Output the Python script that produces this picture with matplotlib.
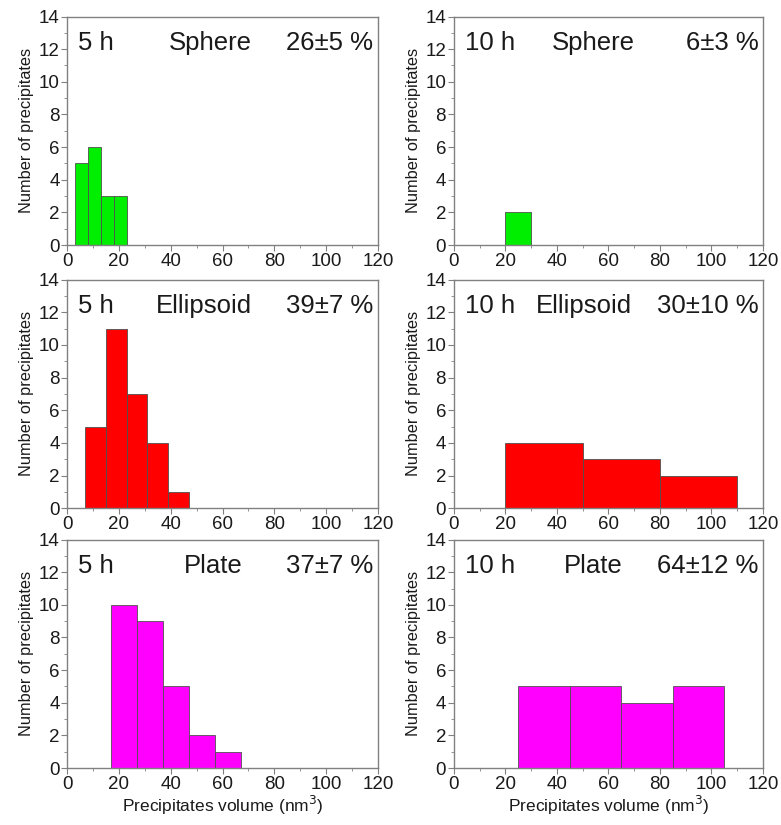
import numpy as np
import matplotlib
matplotlib.use("Agg")
import matplotlib.pyplot as plt
from matplotlib.ticker import MultipleLocator

plt.rcParams['font.family'] = ['Liberation Sans', 'DejaVu Sans']

# bin edges (nm^3) and counts
sphere_5h_edges = [3, 8, 13, 18, 23]
sphere_5h_counts = [5, 6, 3, 3]
sphere_10h_edges = [20, 30]
sphere_10h_counts = [2]
ellip_5h_edges = [7, 15, 23, 31, 39, 47]
ellip_5h_counts = [5, 11, 7, 4, 1]
ellip_10h_edges = [20, 50, 80, 110]
ellip_10h_counts = [4, 3, 2]
plate_5h_edges = [17, 27, 37, 47, 57, 67]
plate_5h_counts = [10, 9, 5, 2, 1]
plate_10h_edges = [25, 45, 65, 85, 105]
plate_10h_counts = [5, 5, 4, 5]

times = ['5 h', '10 h']
shapes = ['Sphere', 'Ellipsoid', 'Plate']
fractions = [['26\u00b15 %', '6\u00b13 %'],
             ['39\u00b17 %', '30\u00b110 %'],
             ['37\u00b17 %', '64\u00b112 %']]
colors = ['#00ee00', '#ff0000', '#ff00ff']

hists = [[(sphere_5h_edges, sphere_5h_counts), (sphere_10h_edges, sphere_10h_counts)],
         [(ellip_5h_edges, ellip_5h_counts), (ellip_10h_edges, ellip_10h_counts)],
         [(plate_5h_edges, plate_5h_counts), (plate_10h_edges, plate_10h_counts)]]

# x centre of the shape name in each panel (axes fraction)
name_x = [[0.46, 0.45], [0.44, 0.42], [0.47, 0.45]]

fig = plt.figure(figsize=(7.81, 8.25), dpi=100)
lefts = [0.086, 0.581]
widths = [0.398, 0.396]
bottoms = [0.703, 0.384, 0.069]
height = 0.277
spine_col = '#808080'
txt_col = '#1a1a1a'

for r in range(3):
    for c in range(2):
        ax = fig.add_axes([lefts[c], bottoms[r], widths[c], height])
        edges, counts = hists[r][c]
        edges = np.array(edges, dtype=float)
        ax.bar(edges[:-1], counts, width=np.diff(edges), align='edge',
               color=colors[r], edgecolor='#505050', linewidth=0.6)
        ax.set_xlim(0, 120)
        ax.set_ylim(0, 14)
        ax.xaxis.set_major_locator(MultipleLocator(20))
        ax.xaxis.set_minor_locator(MultipleLocator(10))
        ax.yaxis.set_major_locator(MultipleLocator(2))
        ax.yaxis.set_minor_locator(MultipleLocator(1))
        ax.tick_params(which='major', direction='out', length=4, width=0.8,
                       color=spine_col, labelsize=13.5, labelcolor=txt_col, pad=1.5)
        ax.tick_params(which='minor', direction='out', length=2, width=0.6,
                       color=spine_col)
        for s in ax.spines.values():
            s.set_color(spine_col)
            s.set_linewidth(1.0)
        ax.set_ylabel('Number of precipitates', fontsize=11.8, color=txt_col, labelpad=3)
        if r == 2:
            ax.set_xlabel('Precipitates volume (nm$^3$)', fontsize=12.5,
                          color=txt_col, labelpad=1)
        ax.text(0.035, 0.885, times[c], transform=ax.transAxes, fontsize=18.5,
                color=txt_col, ha='left', va='center')
        ax.text(name_x[r][c], 0.885, shapes[r], transform=ax.transAxes, fontsize=18.5,
                color=txt_col, ha='center', va='center')
        ax.text(0.985, 0.885, fractions[r][c], transform=ax.transAxes, fontsize=18.5,
                color=txt_col, ha='right', va='center')

fig.savefig('out.png', dpi=100)
